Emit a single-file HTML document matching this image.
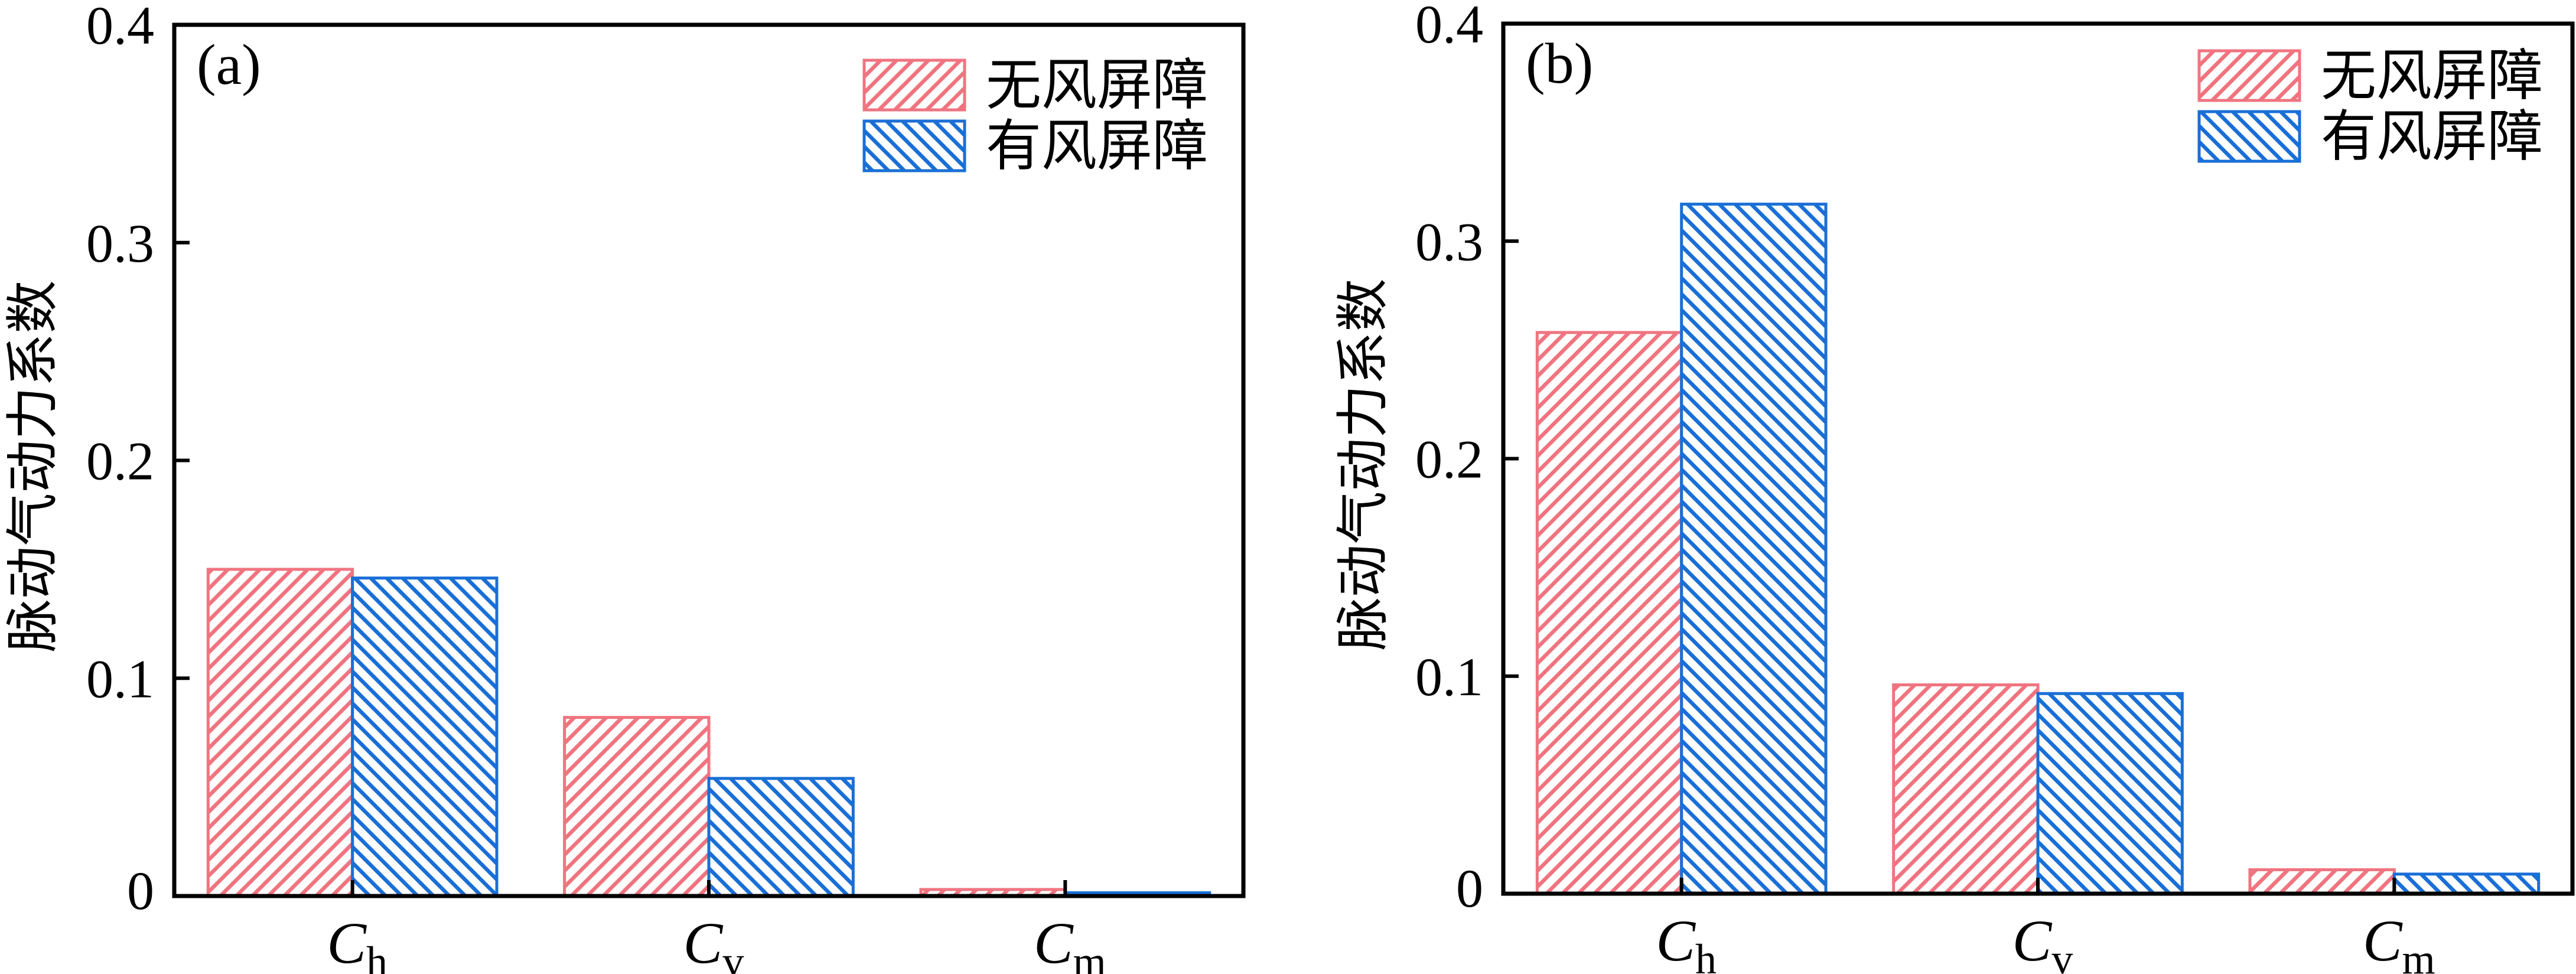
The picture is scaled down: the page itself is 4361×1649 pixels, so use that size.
<!DOCTYPE html>
<html><head><meta charset="utf-8"><style>
html,body{margin:0;padding:0;background:#fff;}
svg{display:block;}
</style></head><body>
<svg id="chart" xmlns="http://www.w3.org/2000/svg" width="4361" height="1649" viewBox="0 0 4361 1649">
<defs>
<pattern id="hatch-red" patternUnits="userSpaceOnUse" width="27" height="27">
<path d="M-7,7 L7,-7 M0,27 L27,0 M20,34 L34,20" stroke="#f07480" stroke-width="6.5"/>
</pattern>
<pattern id="hatch-blue" patternUnits="userSpaceOnUse" width="27" height="27">
<path d="M-7,20 L7,34 M0,0 L27,27 M20,-7 L34,7" stroke="#1a6fd6" stroke-width="6.5"/>
</pattern>
</defs>
</svg>
<script>
const categories = ["h", "v", "m"];
const seriesNames = ["无风屏障", "有风屏障"];
const panelA_noBarrier = [0.150, 0.082, 0.003];
const panelA_withBarrier = [0.146, 0.054, 0.0015];
const panelB_noBarrier = [0.258, 0.096, 0.011];
const panelB_withBarrier = [0.317, 0.092, 0.009];
const yTicks = [0, 0.1, 0.2, 0.3, 0.4];
const yTickLabels = ["0", "0.1", "0.2", "0.3", "0.4"];

const NS = "http://www.w3.org/2000/svg";
const svg = document.getElementById("chart");
function mk(tag, attrs, parent) {
  const e = document.createElementNS(NS, tag);
  for (const k in attrs) e.setAttribute(k, attrs[k]);
  (parent || svg).appendChild(e);
  return e;
}
const colors = ["#f07480", "#1a6fd6"];
const fills = ["url(#hatch-red)", "url(#hatch-blue)"];

function panel(cfg) {
  const g = mk("g", {});
  
  
  const L = cfg.left, R = cfg.right, T = cfg.top, B = cfg.bottom;
  const yMax = 0.4;
  const y = v => B - (v / yMax) * (B - T);
  const step = (R - L) / categories.length;
  const xc = i => L + (i + 0.5) * step;
  const bw = step * 0.405;
  const series = [cfg.s1, cfg.s2];
  // bars
  series.forEach((vals, s) => {
    vals.forEach((v, i) => {
      const x0 = s === 0 ? xc(i) - bw : xc(i);
      const r = mk("rect", {x: x0, y: y(v), width: bw, height: B - y(v), fill: fills[s], stroke: colors[s], "stroke-width": 5}, g);
      
      
    });
  });
  // axes frame
  const frame = mk("rect", {x: L, y: T, width: R - L, height: B - T, fill: "none", stroke: "#000", "stroke-width": 7}, g);
  
  
  // y ticks
  yTicks.forEach((t, k) => {
    const tk = mk("line", {x1: L, x2: L + 26, y1: y(t), y2: y(t), stroke: "#000", "stroke-width": 6}, g);
    
    
    const tx = mk("text", {x: L - 34, y: y(t) + 32 - (k === 0 ? 10 : 0), "text-anchor": "end", "font-family": "Liberation Serif, serif", "font-size": 92}, g);
    tx.textContent = yTickLabels[k];
    
    
  });
  // x ticks + labels
  categories.forEach((c, i) => {
    const tk = mk("line", {x1: xc(i), x2: xc(i), y1: B, y2: B - 27, stroke: "#000", "stroke-width": 6}, g);
    
    
    const tx = mk("text", {x: xc(i) + 8, y: B + 113, "text-anchor": "middle", "font-family": "Liberation Serif, serif", "font-size": 100}, g);
    
    
    const c1 = mk("tspan", {"font-style": "italic"}, tx);
    c1.textContent = "C";
    const c2 = mk("tspan", {"font-size": 72, dy: 22}, tx);
    c2.textContent = c;
  });
  // y title
  const yt = mk("text", {x: 0, y: 0, transform: `translate(${cfg.titleX},${(T + B) / 2 + 10}) rotate(-90)`, "text-anchor": "middle", "font-family": "Liberation Sans, Noto Sans CJK SC, sans-serif", "font-size": 90}, g);
  yt.textContent = "脉动气动力系数";
  
  
  // panel label
  const pl = mk("text", {x: L + 38, y: T + 100, "font-family": "Liberation Serif, serif", "font-size": 98}, g);
  pl.textContent = cfg.label;
  
  
  // legend
  seriesNames.forEach((n, s) => {
    const ly = cfg.legTop + s * 103;
    const lr = mk("rect", {x: cfg.legX, y: ly, width: 170, height: 84, fill: fills[s], stroke: colors[s], "stroke-width": 5}, g);
    
    
    const lt = mk("text", {x: cfg.legX + 206, y: ly + 74, "font-family": "Liberation Sans, Noto Sans CJK SC, sans-serif", "font-size": 94}, g);
    lt.textContent = n;
    
    
  });
}
panel({name: "panel-a", left: 295, right: 2105, top: 42, bottom: 1517, s1: panelA_noBarrier, s2: panelA_withBarrier, titleX: 86, label: "(a)", legX: 1463, legTop: 102});
panel({name: "panel-b", left: 2545, right: 4355, top: 40, bottom: 1513, s1: panelB_noBarrier, s2: panelB_withBarrier, titleX: 2338, label: "(b)", legX: 3723, legTop: 86});
</script>
</body></html>
